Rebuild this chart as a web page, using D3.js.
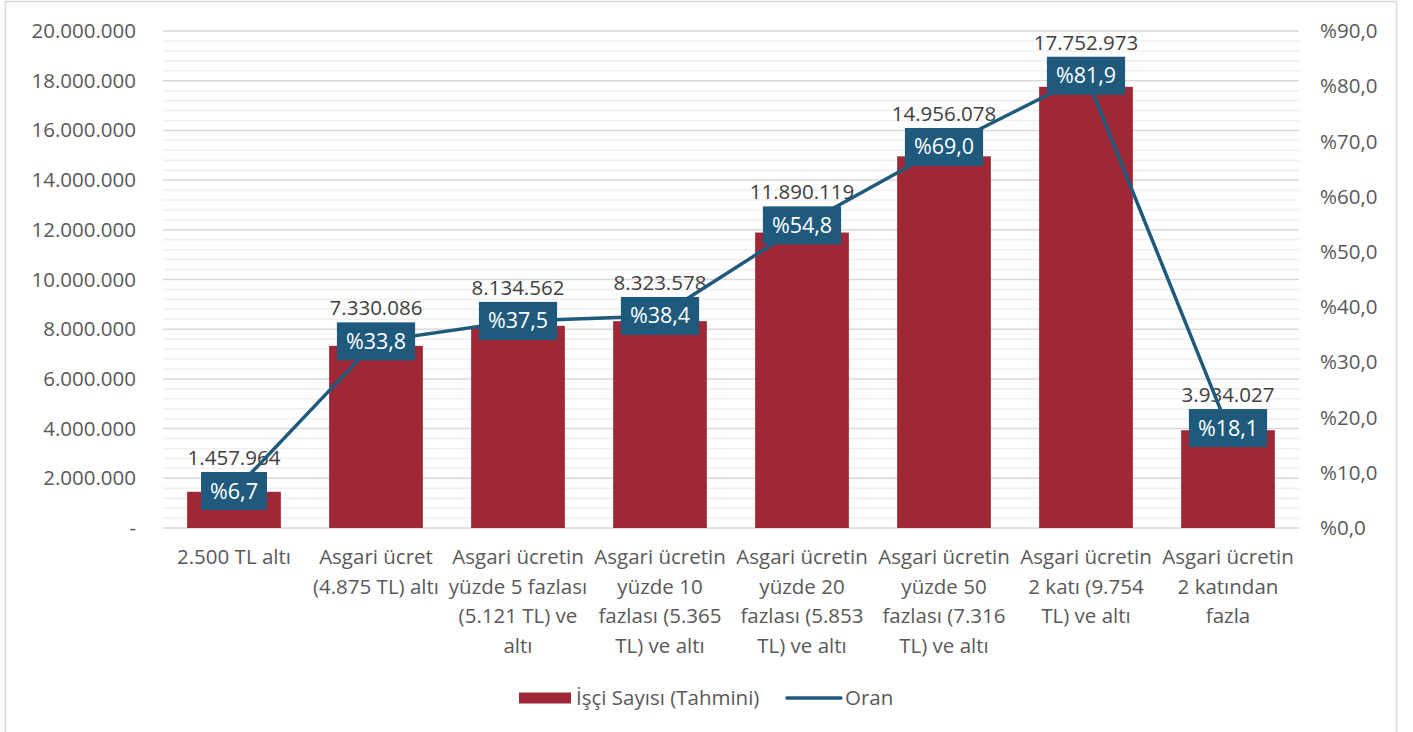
<!DOCTYPE html>
<html>
<head>
<meta charset="utf-8">
<script src="https://cdn.jsdelivr.net/npm/d3@7"></script>
<style>
  body { margin: 0; background: #fff; }
  text { font-family: "Open Sans", Lato, sans-serif; }
</style>
</head>
<body>
<div id="chart"></div>
<script>
const categories = [
  ["2.500 TL altı"],
  ["Asgari ücret", "(4.875 TL) altı"],
  ["Asgari ücretin", "yüzde 5 fazlası", "(5.121 TL) ve", "altı"],
  ["Asgari ücretin", "yüzde 10", "fazlası (5.365", "TL) ve altı"],
  ["Asgari ücretin", "yüzde 20", "fazlası (5.853", "TL) ve altı"],
  ["Asgari ücretin", "yüzde 50", "fazlası (7.316", "TL) ve altı"],
  ["Asgari ücretin", "2 katı (9.754", "TL) ve altı"],
  ["Asgari ücretin", "2 katından", "fazla"]
];
const workers = [1457964, 7330086, 8134562, 8323578, 11890119, 14956078, 17752973, 3934027];
const ratio = [6.7, 33.8, 37.5, 38.4, 54.8, 69.0, 81.9, 18.1];
const leftTicks = [0, 2000000, 4000000, 6000000, 8000000, 10000000, 12000000, 14000000, 16000000, 18000000, 20000000];
const rightTicks = [0, 10, 20, 30, 40, 50, 60, 70, 80, 90];
const legendNames = ["İşçi Sayısı (Tahmini)", "Oran"];

const W = 1413, H = 732;
const margin = {top: 31, right: 114, bottom: 204, left: 163};
const width = W - margin.left - margin.right,
      height = H - margin.top - margin.bottom;

const barColor = "#9e2836", lineColor = "#1f5a7d", textColor = "#595959";

const svg = d3.select("#chart").append("svg")
  .attr("width", W).attr("height", H);

svg.append("rect")
  .attr("x", 5.5).attr("y", 1.5)
  .attr("width", 1391).attr("height", 760)
  .attr("fill", "none").attr("stroke", "#d9d9d9").attr("stroke-width", 1.5);

const g = svg.append("g")
  .attr("transform", `translate(${margin.left},${margin.top})`);

const x = d3.scaleBand()
  .domain(d3.range(categories.length))
  .range([0, width])
  .paddingInner(0.34).paddingOuter(0.17);

const y = d3.scaleLinear().domain([0, 20000000]).range([height, 0]);
const y2 = d3.scaleLinear().domain([0, 90]).range([height, 0]);

const fmtNum = v => v === 0 ? "-" : d3.format(",")(v).replace(/,/g, ".");
const fmtPct = v => "%" + v.toFixed(1).replace(".", ",");

// minor gridlines
const minor = d3.range(0, 20000001, 400000).filter(v => v % 2000000 !== 0);
g.append("g").selectAll("line").data(minor).join("line")
  .attr("x1", 0).attr("x2", width)
  .attr("y1", d => y(d)).attr("y2", d => y(d))
  .attr("stroke", "#f0f0f0").attr("stroke-width", 1.5);

// major gridlines
g.append("g").selectAll("line").data(leftTicks).join("line")
  .attr("x1", 0).attr("x2", width)
  .attr("y1", d => y(d)).attr("y2", d => y(d))
  .attr("stroke", "#d9d9d9").attr("stroke-width", 1.5);

// left axis
const yAxis = g.append("g")
  .call(d3.axisLeft(y).tickValues(leftTicks).tickFormat(fmtNum).tickSize(0).tickPadding(27));
yAxis.select(".domain").remove();
yAxis.selectAll("text").attr("fill", textColor).style("font-size", "20.5px");

// right axis
const y2Axis = g.append("g")
  .attr("transform", `translate(${width},0)`)
  .call(d3.axisRight(y2).tickValues(rightTicks).tickFormat(fmtPct).tickSize(0).tickPadding(21));
y2Axis.select(".domain").remove();
y2Axis.selectAll("text").attr("fill", textColor).style("font-size", "20.5px");

// bars
g.append("g").selectAll("rect").data(workers).join("rect")
  .attr("x", (d, i) => x(i))
  .attr("y", d => y(d))
  .attr("width", x.bandwidth())
  .attr("height", d => height - y(d))
  .attr("fill", barColor);

// category labels
const cx = i => x(i) + x.bandwidth() / 2;
const catG = g.append("g").selectAll("text").data(categories).join("text")
  .attr("x", (d, i) => cx(i))
  .attr("y", height + 36)
  .attr("text-anchor", "middle")
  .attr("fill", textColor)
  .style("font-size", "20.5px");
catG.selectAll("tspan").data(d => d).join("tspan")
  .attr("x", function() { return this.parentNode.getAttribute("x"); })
  .attr("dy", (d, i) => i === 0 ? 0 : 29.5)
  .text(d => d);

// bar value labels (above the ratio box)
const boxH = 38;
g.append("g").selectAll("text").data(workers).join("text")
  .attr("x", (d, i) => cx(i))
  .attr("y", (d, i) => y2(ratio[i]) - boxH / 2 - 7)
  .attr("text-anchor", "middle")
  .attr("fill", "#404040")
  .style("font-size", "20.5px")
  .text(fmtNum);

// ratio line
const line = d3.line().x((d, i) => cx(i)).y(d => y2(d));
g.append("path").datum(ratio)
  .attr("d", line)
  .attr("fill", "none")
  .attr("stroke", lineColor)
  .attr("stroke-width", 3.5);

// ratio label boxes
const lbl = g.append("g").selectAll("g").data(ratio).join("g")
  .attr("transform", (d, i) => `translate(${cx(i)},${y2(d)})`);
lbl.append("text")
  .attr("text-anchor", "middle")
  .attr("dy", "0.35em")
  .attr("fill", "#fff")
  .style("font-size", "21.5px")
  .text(fmtPct);
lbl.each(function() {
  const t = d3.select(this).select("text");
  const w = t.node().getComputedTextLength() + 18;
  d3.select(this).insert("rect", "text")
    .attr("x", -w / 2).attr("y", -boxH / 2)
    .attr("width", w).attr("height", boxH)
    .attr("fill", lineColor);
});

// legend
const lg = svg.append("g").attr("transform", "translate(519,698)");
lg.append("rect").attr("x", 0).attr("y", -5.5).attr("width", 52).attr("height", 11).attr("fill", barColor);
lg.append("text").attr("x", 57).attr("y", 0).attr("dy", "0.35em")
  .attr("fill", textColor).style("font-size", "20.5px").text(legendNames[0]);
lg.append("line").attr("x1", 268).attr("x2", 322).attr("y1", 0).attr("y2", 0)
  .attr("stroke", lineColor).attr("stroke-width", 3.5).attr("stroke-linecap", "round");
lg.append("text").attr("x", 326).attr("y", 0).attr("dy", "0.35em")
  .attr("fill", textColor).style("font-size", "20.5px").text(legendNames[1]);
</script>
</body>
</html>
